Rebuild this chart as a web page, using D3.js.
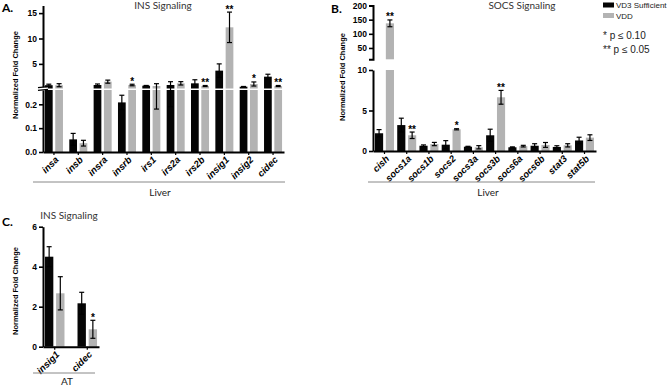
<!DOCTYPE html>
<html>
<head>
<meta charset="utf-8">
<script src="https://cdn.jsdelivr.net/npm/d3@7"></script>
<style>
  body { margin: 0; background: #fff; -webkit-font-smoothing: antialiased; }
  text { font-family: "Liberation Sans", Arial, sans-serif; }
</style>
</head>
<body>
<script>
// ---- DATA ----
// panel A: INS signaling, liver
var genesA = ["insa", "insb", "insra", "insrb", "irs1", "irs2a", "irs2b", "insig1", "insig2", "cidec"];
var suffA = [0.8, 0.053, 0.84, 0.208, 0.7, 0.84, 1.17, 3.67, 0.5, 2.48];
var suffErrA = [0.2, 0.025, 0.2, 0.03, 0.05, 0.65, 0.7, 1.33, 0.05, 0.48];
var vddA = [0.8, 0.037, 1.5, 0.84, 0.64, 1.17, 0.64, 12.2, 1.04, 0.64];
var vddErrA = [0.3, 0.012, 0.3, 0.15, 0.46, 0.33, 0.1, 3.0, 0.4, 0.1];
var sigA = ["", "", "", "*", "", "", "**", "**", "*", "**"];
var ticksA_low = [0, 0.1, 0.2];
var ticksA_high = [5, 10, 15];

// panel B: SOCS signaling, liver
var genesB = ["cish", "socs1a", "socs1b", "socs2", "socs3a", "socs3b", "socs6a", "socs6b", "stat3", "stat5b"];
var suffB = [2.19, 3.2, 0.65, 0.78, 0.53, 1.94, 0.46, 0.65, 0.5, 1.3];
var suffErrB = [0.45, 0.85, 0.1, 0.5, 0.05, 0.75, 0.05, 0.25, 0.15, 0.4];
var vddB = [137, 1.94, 0.86, 2.68, 0.46, 6.63, 0.6, 0.75, 0.7, 1.65];
var vddErrB = [12, 0.4, 0.2, 0.07, 0.2, 0.85, 0.1, 0.3, 0.2, 0.35];
var sigB = ["**", "**", "", "*", "", "**", "", "", "", ""];
var ticksB_low = [0, 5, 10];
var ticksB_high = [50, 100, 150, 200];

// panel C: INS signaling, adipose tissue
var genesC = ["insig1", "cidec"];
var suffC = [4.5, 2.17];
var suffErrC = [0.5, 0.55];
var vddC = [2.67, 0.87];
var vddErrC = [0.83, 0.45];
var sigC = ["", "*"];
var ticksC = [0, 2, 4, 6];

var groups = ["VD3 Sufficient", "VDD"];
var colors = ["#050505", "#b3b3b3"];

function main() {

    var svg = d3.select("body")
        .append("svg")
        .attr("width", 669)
        .attr("height", 386);

    drawPanel(svg, {
        genes: genesA, suff: suffA, suffErr: suffErrA, vdd: vddA, vddErr: vddErrA, sig: sigA,
        segs: [
            { domain: [0, 0.26], range: [152, 90], ticks: ticksA_low, fmt: d3.format(".1f") },
            { domain: [0.15, 16.5], range: [88.5, 5.5], ticks: ticksA_high, fmt: d3.format("d") }
        ],
        x0: 43, x1: 284, padIn: 0.26, padOut: 0.08,
        title: "INS Signaling", titleX: 163, titleY: 9,
        letter: "A.", letterX: 2, letterY: 12,
        ylabX: 15, ylabY: 75,
        lineX: [33, 285], lineY: 182, tissue: "Liver", tissueX: 160, tissueY: 196,
        breakMark: true
    });

    drawPanel(svg, {
        genes: genesB, suff: suffB, suffErr: suffErrB, vdd: vddB, vddErr: vddErrB, sig: sigB,
        segs: [
            { domain: [0, 10], range: [151, 70], ticks: ticksB_low, fmt: d3.format("d") },
            { domain: [10, 200], range: [59.3, 5.5], ticks: ticksB_high, fmt: d3.format("d"), capBottom: true }
        ],
        x0: 373, x1: 596, padIn: 0.146, padOut: 0.09,
        title: "SOCS Signaling", titleX: 522, titleY: 9,
        letter: "B.", letterX: 331, letterY: 13,
        ylabX: 342, ylabY: 77,
        lineX: [368, 595], lineY: 182, tissue: "Liver", tissueX: 488, tissueY: 196
    });

    drawPanel(svg, {
        genes: genesC, suff: suffC, suffErr: suffErrC, vdd: vddC, vddErr: vddErrC, sig: sigC,
        segs: [
            { domain: [0, 6], range: [346.7, 226.7], ticks: ticksC, fmt: d3.format("d") }
        ],
        x0: 43, x1: 99, padIn: 0.4, padOut: 0.06,
        title: "INS Signaling", titleX: 69, titleY: 219,
        letter: "C.", letterX: 2, letterY: 226,
        ylabX: 15, ylabY: 291,
        lineX: [33, 95], lineY: 373, tissue: "AT", tissueX: 67, tissueY: 385
    });

    drawLegend(svg);
};

// y position through a (possibly) broken axis
function makeBrokenScale(segs, scales) {
    return function (v) {
        if (segs.length == 1 || v <= segs[0].domain[1]) return scales[0](v);
        return scales[1](Math.max(v, segs[1].domain[0]));
    };
};

function drawPanel(svg, o) {
    var segs = o.segs;
    var scales = segs.map(function (s) {
        return d3.scaleLinear().domain(s.domain).range(s.range);
    });
    var y = makeBrokenScale(segs, scales);
    var baseY = scales[0](0);

    // rows for the join
    var rows = o.genes.map(function (g, i) {
        return {
            gene: g, sig: o.sig[i],
            vals: [
                { grp: groups[0], v: o.suff[i], e: o.suffErr[i] },
                { grp: groups[1], v: o.vdd[i], e: o.vddErr[i] }
            ]
        };
    });

    var x0 = d3.scaleBand()
        .domain(o.genes)
        .range([o.x0, o.x1])
        .paddingInner(o.padIn)
        .paddingOuter(o.padOut);

    var x1 = d3.scaleBand()
        .domain(groups)
        .range([0, x0.bandwidth()])
        .paddingInner(0.25);

    var g = svg.append("g");

    var geneG = g.selectAll(".gene")
        .data(rows)
        .enter()
        .append("g")
        .attr("class", "gene")
        .attr("transform", function (d) { return "translate(" + x0(d.gene) + ",0)"; });

    // bars, one rect per axis segment
    segs.forEach(function (s, si) {
        var floor = si == 0 ? 0 : segs[si - 1].domain[1];
        var sc = scales[si];
        geneG.selectAll(".bar" + si)
            .data(function (d) { return d.vals.filter(function (b) { return b.v > floor; }); })
            .enter()
            .append("rect")
            .attr("x", function (b) { return x1(b.grp); })
            .attr("width", x1.bandwidth())
            .attr("y", function (b) { return sc(Math.min(b.v, s.domain[1])); })
            .attr("height", function (b) { return sc(s.domain[0]) - sc(Math.min(b.v, s.domain[1])); })
            .attr("fill", function (b) { return colors[groups.indexOf(b.grp)]; });
    });

    // error bars
    var eb = geneG.selectAll(".err")
        .data(function (d) { return d.vals; })
        .enter()
        .append("g")
        .attr("transform", function (b) { return "translate(" + (x1(b.grp) + x1.bandwidth() / 2) + ",0)"; })
        .attr("stroke", "#000")
        .attr("stroke-width", 1.2);
    eb.append("line")
        .attr("y1", function (b) { return y(Math.max(b.v - b.e, 0)); })
        .attr("y2", function (b) { return y(b.v + b.e); });
    eb.append("line")
        .attr("x1", -2.5).attr("x2", 2.5)
        .attr("y1", function (b) { return y(b.v + b.e); })
        .attr("y2", function (b) { return y(b.v + b.e); });
    eb.append("line")
        .attr("x1", -2.5).attr("x2", 2.5)
        .attr("y1", function (b) { return y(Math.max(b.v - b.e, 0)); })
        .attr("y2", function (b) { return y(Math.max(b.v - b.e, 0)); });

    // significance stars above the VDD bar
    geneG.append("text")
        .attr("x", x1(groups[1]) + x1.bandwidth() / 2)
        .attr("y", function (d) { return y(d.vals[1].v + d.vals[1].e) + 0.5; })
        .attr("text-anchor", "middle")
        .attr("fill", "#000")
        .style("font-size", "10px")
        .style("font-weight", "bold")
        .text(function (d) { return d.sig; });

    // y axes
    segs.forEach(function (s, si) {
        var ax = g.append("g")
            .attr("transform", "translate(" + o.x0 + ",0)")
            .call(d3.axisLeft(scales[si])
                .tickValues(s.ticks)
                .tickFormat(s.fmt)
                .tickSize(4)
                .tickPadding(2)
                .tickSizeOuter(s.capBottom ? 4 : 0));
        ax.select(".domain").attr("stroke-width", 2);
        ax.selectAll(".tick line").attr("stroke-width", 1.6);
        ax.selectAll(".tick text")
            .style("font-family", "Liberation Sans, Arial, sans-serif")
            .style("font-size", "8.5px")
            .style("font-weight", "bold")
            .attr("fill", "#000");
    });

    // break mark on the y axis (panel A)
    if (o.breakMark) {
        g.append("rect").attr("x", o.x0 - 5).attr("y", 87.3).attr("width", 10).attr("height", 2.3).attr("fill", "#fff");
        g.append("line").attr("x1", o.x0 - 5).attr("x2", o.x0 + 5).attr("y1", 87.6).attr("y2", 86.6)
            .attr("stroke", "#000").attr("stroke-width", 1.2);
        g.append("line").attr("x1", o.x0 - 5).attr("x2", o.x0 + 5).attr("y1", 90.3).attr("y2", 89.3)
            .attr("stroke", "#000").attr("stroke-width", 1.2);
    }

    // x axis
    var xa = g.append("g")
        .attr("transform", "translate(0," + baseY + ")")
        .call(d3.axisBottom(x0).tickSize(3).tickSizeOuter(0).tickFormat(""));
    xa.select(".domain").attr("stroke-width", 2);
    xa.selectAll(".tick line").attr("stroke-width", 1.2);

    g.selectAll(".xlab")
        .data(o.genes)
        .enter()
        .append("text")
        .attr("transform", function (d) {
            return "translate(" + (x0(d) + x0.bandwidth() / 2 + 3) + "," + (baseY + 6) + ") rotate(-45)";
        })
        .attr("text-anchor", "end")
        .attr("dy", "0.35em")
        .style("font-size", "9.5px")
        .style("font-weight", "bold")
        .style("font-style", "italic")
        .text(function (d) { return d; });

    // tissue bracket
    g.append("line")
        .attr("x1", o.lineX[0]).attr("x2", o.lineX[1])
        .attr("y1", o.lineY).attr("y2", o.lineY)
        .attr("stroke", "#888").attr("stroke-width", 1);
    g.append("text")
        .attr("x", o.tissueX).attr("y", o.tissueY)
        .attr("text-anchor", "middle")
        .style("font-family", "Lato, sans-serif")
        .style("font-size", "10px")
        .attr("fill", "#222")
        .text(o.tissue);

    // titles and labels
    g.append("text")
        .attr("x", o.titleX).attr("y", o.titleY)
        .attr("text-anchor", "middle")
        .style("font-family", "Lato, sans-serif")
        .style("font-size", "10px")
        .attr("fill", "#333")
        .text(o.title);
    g.append("text")
        .attr("x", o.letterX).attr("y", o.letterY)
        .style("font-family", "Lato, sans-serif")
        .style("font-size", "12px")
        .style("font-weight", "bold")
        .text(o.letter);
    g.append("text")
        .attr("transform", "translate(" + o.ylabX + "," + o.ylabY + ") rotate(-90)")
        .attr("text-anchor", "middle")
        .attr("dy", "0.35em")
        .style("font-size", "7.5px")
        .style("font-weight", "bold")
        .text("Normalized Fold Change");
};

function drawLegend(svg) {
    var leg = svg.append("g");
    groups.forEach(function (grp, i) {
        leg.append("rect")
            .attr("x", 603).attr("y", 2.5 + i * 10.5)
            .attr("width", 11).attr("height", 5)
            .attr("fill", colors[i]);
        leg.append("text")
            .attr("x", 616).attr("y", 8 + i * 10.5)
            .style("font-size", "8px")
            .attr("fill", "#222")
            .text(grp);
    });
    var pText = ["* p \u2264 0.10", "** p \u2264 0.05"];
    pText.forEach(function (t, i) {
        leg.append("text")
            .attr("x", 603).attr("y", 39 + i * 14)
            .style("font-size", "10px")
            .attr("fill", "#222")
            .text(t);
    });
};

window.onload = main;
</script>
</body>
</html>
